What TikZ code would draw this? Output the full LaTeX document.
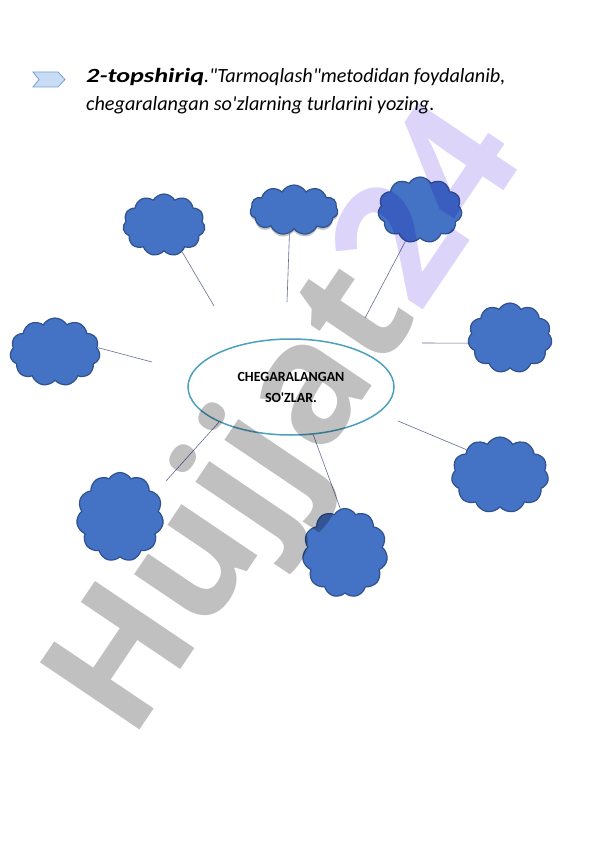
\documentclass[tikz,border=0pt]{standalone}
\usepackage{fontspec}
\setmainfont{Carlito}[Ligatures=TeXOff]
\newfontfamily\wmfont{Open Sans}
\usetikzlibrary{shapes.symbols,shapes.geometric,shadows}
\definecolor{cloudfill}{RGB}{68,114,196}
\definecolor{clouddraw}{RGB}{47,82,143}
\definecolor{ellcol}{RGB}{75,160,190}
\definecolor{linkcol}{RGB}{100,110,150}
\definecolor{wmgray}{RGB}{192,192,192}
\definecolor{wmlav}{RGB}{221,212,250}
\definecolor{chevfill}{RGB}{200,220,245}
\definecolor{chevdraw}{RGB}{120,160,210}
\tikzset{
  blob/.style={cloud, cloud puffs=11, cloud puff arc=120, cloud ignores aspect,
    fill=cloudfill, draw=clouddraw, line width=1.2pt, inner sep=0pt},
  link/.style={draw=linkcol, line width=0.6pt},
  titletext/.style={anchor=base west, inner sep=0, font=\fontsize{20.2}{28}\selectfont\itshape},
}
\begin{document}
\begin{tikzpicture}[x=1pt,y=-1pt]
\fill[white] (0,0) rectangle (596,842);
\useasboundingbox (0,0) rectangle (596,842);
% chevron bullet
\draw[chevdraw, fill=chevfill, line width=0.8pt] (33,72) -- (58,72) -- (65,79.5) -- (58,87) -- (33,87) -- (39,79.5) -- cycle;
% title
\node[titletext] (t1) at (86,83)
  {\scalebox{1.3}[1]{\bfseries 2-topshiriq}."Tarmoqlash"metodidan foydalanib,};
\node[titletext] (t2) at (86,111)
  {chegaralangan so'zlarning turlarini yozing.};
% centre
\node[ellipse, draw=ellcol, line width=1.5pt, minimum width=206pt, minimum height=96pt,
  inner sep=0, align=center, font=\bfseries\fontsize{14}{21}\selectfont] (ell) at (291,387)
  {\raisebox{-3pt}{CHEGARALANGAN}\\\raisebox{-3pt}{SO'ZLAR.}};
% clouds
\node[blob, minimum width=82pt, minimum height=62pt] (c1) at (164,225) {};
\node[blob, minimum width=88pt, minimum height=50pt, drop shadow={shadow xshift=0pt, shadow yshift=-2.5pt, opacity=0.45}] (c2) at (294,210) {};
\node[blob, minimum width=84pt, minimum height=66pt] (c3) at (420,210) {};
\node[blob, minimum width=90pt, minimum height=68pt] (c4) at (55,352) {};
\node[blob, minimum width=84pt, minimum height=70pt] (c5) at (510,338) {};
\node[blob, minimum width=97pt, minimum height=76pt] (c6) at (500,475) {};
\node[blob, minimum width=87pt, minimum height=89pt] (c7) at (120,517) {};
\node[blob, minimum width=85pt, minimum height=89pt] (c8) at (345,553) {};
% free ends
\coordinate (e1) at (214,306);
\coordinate (e2) at (287,302);
\coordinate (e3) at (365,318);
\coordinate (e4) at (152,362);
\coordinate (e5) at (422,343);
\coordinate (e6) at (398,421);
\coordinate (e7) at (166,481);
% connectors
\draw[link] (c1.304) -- (e1);
\draw[link] (c2.259) -- (e2);
\draw[link] (c3.245) -- (e3);
\draw[link] (c4.6) -- (e4);
\draw[link] (e5) -- (c5.187);
\draw[link] (e6) -- (c6.143);
\draw[link] (ell.206) -- (e7);
\draw[link] (ell.295) -- (c8.96);
% watermark
\begin{scope}[blend mode=multiply]
\node[rotate=56, inner sep=0, font=\wmfont\bfseries\fontsize{168}{168}\selectfont] (wm) at (293,425)
  {\textcolor{wmgray}{Hujjat}\textcolor{wmlav}{24}};
\end{scope}
\end{tikzpicture}
\end{document}
